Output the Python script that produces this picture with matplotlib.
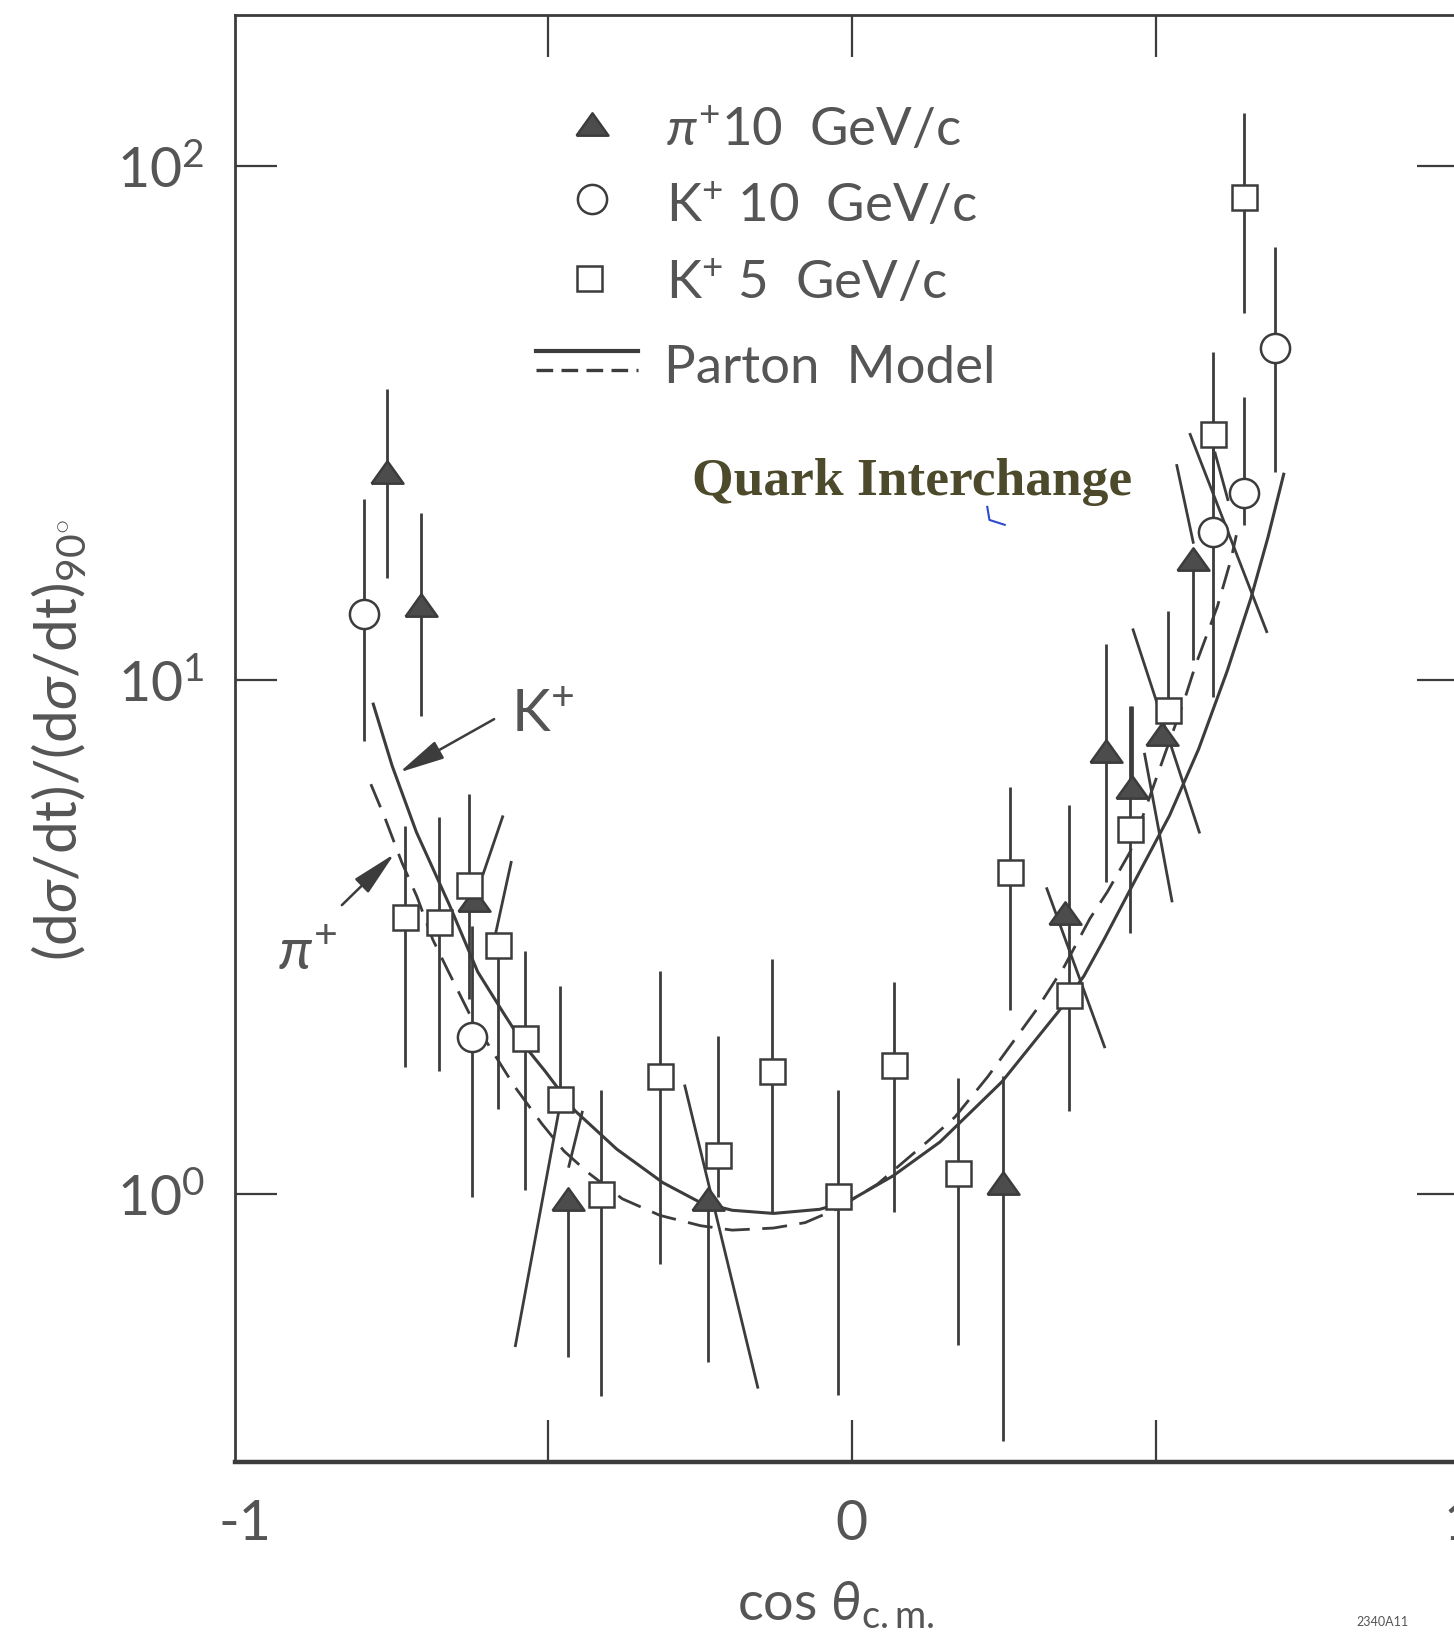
import numpy as np
import matplotlib.pyplot as plt
from matplotlib.lines import Line2D
from matplotlib.ticker import NullLocator

plt.rcParams['font.family'] = ['Lato', 'DejaVu Sans']
plt.rcParams['mathtext.fontset'] = 'custom'
plt.rcParams['mathtext.rm'] = 'Lato'
plt.rcParams['mathtext.it'] = 'Lato:italic'
plt.rcParams['mathtext.bf'] = 'Lato:bold'

# --- data ---
# pi+ 10 GeV/c (filled triangles)
pi10_x = [-0.765, -0.709, -0.622, -0.467, -0.237, 0.249, 0.351, 0.419, 0.462, 0.511, 0.561]
pi10_y = [25.3, 13.96, 3.73, 0.977, 0.977, 1.048, 3.51, 7.27, 6.17, 7.83, 17.2]
pi10_hi = [36.7, 21.1, 3.73, 0.977, 0.977, 1.69, 3.51, 11.75, 8.88, 7.83, 17.2]
pi10_lo = [15.8, 8.51, 3.73, 0.48, 0.47, 0.33, 3.51, 4.03, 6.17, 7.83, 10.9]

# K+ 10 GeV/c (open circles)
k10_x = [-0.803, -0.625, 0.594, 0.645, 0.696]
k10_y = [13.44, 2.02, 19.4, 23.1, 44.2]
k10_hi = [22.5, 3.32, 30.0, 35.5, 69.5]
k10_lo = [7.61, 0.986, 9.26, 20.0, 25.3]

# K+ 5 GeV/c (open squares)
k5_x = [-0.735, -0.680, -0.631, -0.582, -0.539, -0.480, -0.413, -0.316, -0.221, -0.132,
        -0.023, 0.070, 0.174, 0.261, 0.357, 0.458, 0.520, 0.594, 0.646]
k5_y = [3.46, 3.38, 3.98, 3.04, 2.01, 1.53, 1.00, 1.69, 1.19, 1.73,
        0.99, 1.78, 1.098, 4.23, 2.43, 5.12, 8.71, 30.0, 86.9]
k5_hi = [5.19, 5.41, 6.0, 3.04, 2.97, 2.53, 1.59, 2.71, 2.03, 2.86,
         1.59, 2.58, 1.68, 6.17, 5.70, 8.88, 13.6, 43.4, 126.9]
k5_lo = [1.76, 1.73, 2.39, 1.46, 1.014, 1.53, 0.403, 0.728, 0.986, 0.92,
         0.405, 0.92, 0.508, 2.28, 1.45, 3.22, 8.71, 23.5, 51.8]

# parton model curves: K+ (solid), pi+ (dashed)
kplus_x = [-0.788, -0.757, -0.717, -0.662, -0.616, -0.572, -0.539, -0.505, -0.456, -0.387,
           -0.311, -0.251, -0.197, -0.129, -0.053, -0.004, 0.068, 0.145, 0.247, 0.340,
           0.382, 0.415, 0.463, 0.523, 0.571, 0.618, 0.657, 0.685, 0.711]
kplus_y = [8.96, 6.80, 5.05, 3.63, 2.70, 2.23, 1.94, 1.73, 1.45, 1.22,
           1.05, 0.963, 0.928, 0.915, 0.932, 0.968, 1.083, 1.26, 1.65, 2.26,
           2.65, 3.12, 4.00, 5.44, 7.33, 10.4, 14.4, 18.9, 25.1]
piplus_x = [-0.792, -0.769, -0.741, -0.716, -0.690, -0.664, -0.629, -0.594, -0.556, -0.511,
            -0.474, -0.435, -0.378, -0.316, -0.249, -0.197, -0.129, -0.077, -0.026, 0.042,
            0.127, 0.170, 0.224, 0.304, 0.350, 0.392, 0.421, 0.458, 0.483, 0.516,
            0.548, 0.565, 0.602, 0.624, 0.633]
piplus_y = [6.26, 5.39, 4.41, 3.78, 3.12, 2.70, 2.23, 1.91, 1.62, 1.37,
            1.21, 1.10, 0.977, 0.907, 0.866, 0.849, 0.857, 0.878, 0.932, 1.043,
            1.27, 1.41, 1.69, 2.28, 2.77, 3.43, 3.87, 4.62, 5.59, 7.20,
            9.17, 10.6, 13.9, 17.1, 19.1]

# slanted bars seen on the scan
seg_x0 = [-0.575, -0.561, -0.480, -0.444, -0.275, 0.463, 0.482, 0.321, 0.557, 0.535, 0.598]
seg_y0 = [5.41, 4.41, 1.50, 1.44, 1.62, 12.5, 7.16, 3.92, 30.0, 26.1, 27.6]
seg_x1 = [-0.607, -0.586, -0.554, -0.466, -0.155, 0.572, 0.527, 0.416, 0.683, 0.562, 0.619]
seg_y1 = [4.19, 3.23, 0.506, 1.13, 0.42, 5.05, 3.71, 1.93, 12.4, 18.5, 22.4]

x_ticks = [-1, -0.5, 0, 0.5, 1]
x_ticklabels = ['-1', '', '0', '', '1']
y_ticks = [1, 10, 100]
y_ticklabels = [r'$10^{0}$', r'$10^{1}$', r'$10^{2}$']

ink = '#3c3c3c'
txt = '#555555'
tri = [(-1, -0.7), (1, -0.7), (0, 0.7), (-1, -0.7)]

fig = plt.figure(figsize=(14.54, 16.33), dpi=100)
ax = fig.add_axes([0.1619, 0.1039, 0.8417, 0.8865])
ax.set_yscale('log')
ax.set_xlim(-1.015, 1.0)
ax.set_ylim(0.300, 196.7)

# curves
ax.plot(kplus_x, kplus_y, color=ink, lw=2.2, zorder=2)
ax.plot(piplus_x, piplus_y, color=ink, lw=2.0, ls=(0, (9, 4.5)), zorder=2)

for xa, ya, xb, yb in zip(seg_x0, seg_y0, seg_x1, seg_y1):
    ax.plot([xa, xb], [ya, yb], color=ink, lw=2.0, zorder=2)

# data with error bars
def draw_set(x, y, lo, hi, marker, ms, face):
    x = np.array(x); y = np.array(y)
    err = [y - np.array(lo), np.array(hi) - y]
    ax.errorbar(x, y, yerr=err, fmt='none', ecolor=ink, elinewidth=2.0, capsize=0, zorder=3)
    ax.plot(x, y, ls='none', marker=marker, ms=ms, mfc=face, mec=ink, mew=1.8, zorder=4)

draw_set(pi10_x, pi10_y, pi10_lo, pi10_hi, tri, 23, '#4c4c4c')
draw_set(k10_x, k10_y, k10_lo, k10_hi, 'o', 21, 'white')
draw_set(k5_x, k5_y, k5_lo, k5_hi, 's', 18, 'white')

# arrows pointing at the curves
arrow = dict(arrowstyle='-|>,head_length=1.4,head_width=0.3', color=ink, lw=1.8, mutation_scale=20)
ax.annotate('', xy=(-0.749, 6.56), xytext=(-0.585, 8.43), arrowprops=arrow)
ax.annotate('', xy=(-0.750, 4.62), xytext=(-0.843, 3.61), arrowprops=arrow)
ax.text(-0.562, 7.94, r'K$^{+}$', fontsize=42, color=txt, ha='left', va='baseline')
ax.text(-0.945, 2.74, r'$\pi^{+}$', fontsize=42, color=txt, ha='left', va='baseline')

# legend, drawn by hand
ax.plot([0.291], [0.9245], transform=ax.transAxes, marker=tri, ms=23, mfc='#4c4c4c', mec=ink, mew=1.8, ls='none')
ax.plot([0.291], [0.8727], transform=ax.transAxes, marker='o', ms=21, mfc='white', mec=ink, mew=1.8, ls='none')
ax.plot([0.289], [0.818], transform=ax.transAxes, marker='s', ms=18, mfc='white', mec=ink, mew=1.8, ls='none')
ax.plot([0.246, 0.329], [0.7676, 0.7676], transform=ax.transAxes, color=ink, lw=3.0)
ax.plot([0.246, 0.329], [0.7547, 0.7547], transform=ax.transAxes, color=ink, lw=2.4, ls=(0, (5, 2.5)))
ax.text(0.352, 0.910, r'$\pi^{+}$10  GeV/c', transform=ax.transAxes, fontsize=38, color=txt, va='baseline')
ax.text(0.352, 0.8576, r'K$^{+}$ 10  GeV/c', transform=ax.transAxes, fontsize=38, color=txt, va='baseline')
ax.text(0.352, 0.8043, r'K$^{+}$ 5  GeV/c', transform=ax.transAxes, fontsize=38, color=txt, va='baseline')
ax.text(0.350, 0.746, 'Parton  Model', transform=ax.transAxes, fontsize=38, color=txt, va='baseline')

# axes styling
ax.set_xticks(x_ticks)
ax.set_xticklabels(x_ticklabels)
ax.set_yticks(y_ticks)
ax.set_yticklabels(y_ticklabels)
ax.yaxis.set_minor_locator(NullLocator())
ax.tick_params(which='major', direction='in', length=30, width=1.6, top=True, right=True,
               colors=ink, labelcolor=txt, labelsize=40)
ax.tick_params(axis='y', pad=22)
ax.tick_params(axis='x', pad=26)
for loc, t in zip(x_ticks, ax.xaxis.get_major_ticks()):
    if abs(loc) == 1:
        t.tick1line.set_visible(False)
        t.tick2line.set_visible(False)
for s in ax.spines.values():
    s.set_linewidth(2.0)
    s.set_color(ink)
ax.spines['bottom'].set_linewidth(3.2)

fig.text(0.040, 0.547, r'(d$\sigma$/dt)/(d$\sigma$/dt)$_{90^{\circ}}$', rotation=90,
         fontsize=42, color=txt, ha='center', va='center')
fig.text(0.575, 0.017, r'cos $\theta_{\rm c.m.}$', fontsize=39, color=txt, ha='center', va='center')

fig.text(0.476, 0.7047, 'Quark Interchange', family='Liberation Serif', fontweight='bold',
         fontsize=38.5, color='#4d4a2b', ha='left', va='center')
fig.add_artist(Line2D([0.679, 0.6805, 0.691], [0.689, 0.681, 0.678], color='#2a4bd0', lw=1.5))
fig.text(0.933, 0.004, '2340A11', fontsize=9, color=txt)

fig.savefig('out.png', dpi=100)
